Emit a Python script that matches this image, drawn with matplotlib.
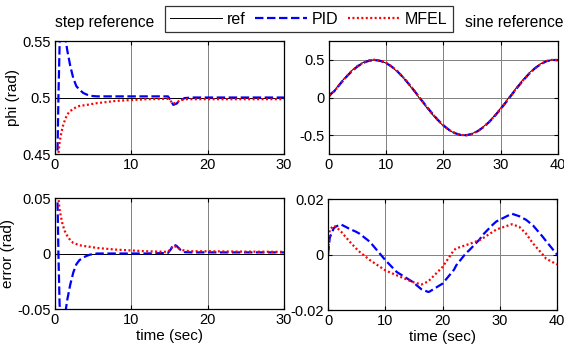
import matplotlib
matplotlib.use("Agg")
import matplotlib.pyplot as plt
from matplotlib.lines import Line2D

plt.rcParams['font.family'] = ['Liberation Sans', 'DejaVu Sans']
plt.rcParams['font.size'] = 11

# step reference response (phi, rad)
t_step = [0, 0.3, 0.45, 0.6, 0.75, 1.0, 1.3, 1.6, 2.0, 2.4, 2.8, 3.2, 3.7, 4.2, 4.6, 5.5, 8, 12, 14.8,
          15.2, 15.5, 15.9, 16.4, 17.0, 18, 20, 25, 30]
ref_step = [0.5] * len(t_step)
pid_step = [0.40, 0.44, 0.50, 0.545, 0.565, 0.568, 0.556, 0.542, 0.528, 0.517, 0.510, 0.507, 0.504, 0.5025,
            0.5015, 0.501, 0.501, 0.501, 0.501, 0.497, 0.4935, 0.4945, 0.4975, 0.4995, 0.5, 0.5, 0.5, 0.5]
mfel_step = [0.40, 0.43, 0.45, 0.460, 0.466, 0.474, 0.480, 0.485, 0.488, 0.490, 0.4915, 0.4925, 0.493, 0.4935,
             0.494, 0.495, 0.497, 0.4985, 0.4988, 0.4965, 0.4945, 0.4955, 0.4975, 0.4985, 0.4985, 0.4985,
             0.4985, 0.4985]

# step reference error (rad)
pid_step_err = [0.10, 0.06, 0.0, -0.045, -0.065, -0.068, -0.056, -0.042, -0.028, -0.017, -0.0097, -0.006,
                -0.0036, -0.002, -0.001, 0.0, 0.0, 0.0, 0.0005, 0.004, 0.0082, 0.0070, 0.0035, 0.0012, 0.001,
                0.001, 0.001, 0.001]
mfel_step_err = [0.10, 0.07, 0.05, 0.040, 0.034, 0.026, 0.020, 0.016, 0.012, 0.0095, 0.0085, 0.0075, 0.0068,
                 0.0064, 0.006, 0.005, 0.0035, 0.002, 0.0015, 0.0045, 0.007, 0.006, 0.004, 0.0025, 0.002,
                 0.002, 0.0017, 0.0015]

# sine reference response (phi, rad)
t_sine = list(range(0, 41))
ref_sine = [0.0, 0.099, 0.195, 0.282, 0.359, 0.421, 0.466, 0.493, 0.500, 0.487, 0.455, 0.404, 0.338, 0.258,
            0.167, 0.071, -0.029, -0.128, -0.221, -0.306, -0.378, -0.436, -0.476, -0.497, -0.498, -0.479,
            -0.442, -0.386, -0.316, -0.232, -0.140, -0.042, 0.058, 0.156, 0.247, 0.328, 0.397, 0.449, 0.484,
            0.499, 0.495]
pid_sine = [0.03, 0.089, 0.184, 0.271, 0.350, 0.413, 0.460, 0.488, 0.497, 0.486, 0.456, 0.408, 0.343, 0.264,
            0.175, 0.080, -0.019, -0.115, -0.208, -0.295, -0.370, -0.431, -0.473, -0.497, -0.501, -0.483,
            -0.446, -0.392, -0.324, -0.242, -0.152, -0.056, 0.044, 0.141, 0.234, 0.318, 0.389, 0.444, 0.482,
            0.499, 0.495]
mfel_sine = [0.03, 0.089, 0.186, 0.275, 0.354, 0.418, 0.464, 0.493, 0.502, 0.491, 0.460, 0.411, 0.345, 0.266,
             0.176, 0.081, -0.019, -0.118, -0.212, -0.299, -0.372, -0.432, -0.474, -0.497, -0.501, -0.483,
             -0.446, -0.391, -0.322, -0.240, -0.150, -0.053, 0.047, 0.145, 0.237, 0.318, 0.389, 0.445, 0.484,
             0.501, 0.498]

# sine reference error (rad)
t_sine_err = [0, 0.3, 1.0, 1.5, 2.3, 3.8, 4.9, 5.5, 7.3, 10, 12, 14.8, 16.3, 17.5, 17.7, 20, 22, 22.4, 24.1,
              24.7, 26.5, 27, 28.8, 29.4, 32.1, 33.4, 34.6, 35.8, 37.5, 38.1, 40]
pid_sine_err = [0.0, 0.006, 0.0095, 0.0102, 0.0108, 0.0092, 0.0082, 0.0075, 0.0046, -0.002, -0.0063, -0.0099,
                -0.0125, -0.0135, -0.0134, -0.0105, -0.0055, -0.0039, 0.0005, 0.0016, 0.0055, 0.007, 0.0108,
                0.0119, 0.0147, 0.0138, 0.0125, 0.0105, 0.0064, 0.0048, 0.0]
mfel_sine_err = [0.0, 0.009, 0.0104, 0.0098, 0.0082, 0.0046, 0.0022, 0.001, -0.002, -0.0057, -0.0075, -0.0099,
                 -0.0108, -0.0097, -0.0093, -0.0045, 0.0016, 0.0022, 0.0034, 0.0038, 0.0052, 0.0058, 0.0082,
                 0.009, 0.0109, 0.010, 0.0075, 0.004, 0.0, -0.0015, -0.0036]

BLUE = '#0000ff'
RED = '#ff0000'
DASH = (0, (3.8, 1.6))
DOT = (0, (0.9, 1.1))
TICK_FS = 10.5

fig = plt.figure(figsize=(5.64, 3.56), dpi=100)
ax_tl = fig.add_axes([0.0975, 0.5674, 0.406, 0.3174])
ax_tr = fig.add_axes([0.5833, 0.5674, 0.406, 0.3174])
ax_bl = fig.add_axes([0.0975, 0.132, 0.406, 0.3118])
ax_br = fig.add_axes([0.5816, 0.1292, 0.406, 0.3118])


def style(ax):
    ax.grid(True, color='#808080', linewidth=0.7)
    ax.tick_params(direction='in', length=3, top=True, right=True, labelsize=TICK_FS, pad=3)
    for s in ax.spines.values():
        s.set_linewidth(0.9)


ax_tl.plot(t_step, ref_step, color='black', lw=0.7)
ax_tl.plot(t_step, pid_step, color=BLUE, lw=1.6, ls=DASH)
ax_tl.plot(t_step, mfel_step, color=RED, lw=1.6, ls=DOT)
ax_tl.set_xlim(0, 30)
ax_tl.set_ylim(0.45, 0.55)
ax_tl.set_xticks([0, 10, 20, 30])
ax_tl.set_yticks([0.45, 0.5, 0.55])
ax_tl.set_yticklabels(['0.45', '0.5', '0.55'])
ax_tl.set_ylabel('phi (rad)', labelpad=2)
style(ax_tl)

ax_tr.plot(t_sine, ref_sine, color='black', lw=0.7)
ax_tr.plot(t_sine, pid_sine, color=BLUE, lw=1.6, ls=DASH)
ax_tr.plot(t_sine, mfel_sine, color=RED, lw=1.6, ls=DOT)
ax_tr.set_xlim(0, 40)
ax_tr.set_ylim(-0.75, 0.75)
ax_tr.set_xticks([0, 10, 20, 30, 40])
ax_tr.set_yticks([-0.5, 0, 0.5])
ax_tr.set_yticklabels(['-0.5', '0', '0.5'])
style(ax_tr)

ax_bl.axhline(0, color='black', lw=0.7)
ax_bl.plot(t_step, pid_step_err, color=BLUE, lw=1.6, ls=DASH)
ax_bl.plot(t_step, mfel_step_err, color=RED, lw=1.6, ls=DOT)
ax_bl.set_xlim(0, 30)
ax_bl.set_ylim(-0.05, 0.05)
ax_bl.set_xticks([0, 10, 20, 30])
ax_bl.set_yticks([-0.05, 0, 0.05])
ax_bl.set_yticklabels(['-0.05', '0', '0.05'])
ax_bl.set_ylabel('error (rad)', labelpad=2)
ax_bl.set_xlabel('time (sec)', labelpad=1)
style(ax_bl)

ax_br.plot(t_sine_err, pid_sine_err, color=BLUE, lw=1.6, ls=DASH)
ax_br.plot(t_sine_err, mfel_sine_err, color=RED, lw=1.6, ls=DOT)
ax_br.set_xlim(0, 40)
ax_br.set_ylim(-0.02, 0.02)
ax_br.set_xticks([0, 10, 20, 30, 40])
ax_br.set_yticks([-0.02, 0, 0.02])
ax_br.set_yticklabels(['-0.02', '0', '0.02'])
ax_br.set_xlabel('time (sec)', labelpad=1)
style(ax_br)

handles = [Line2D([], [], color='black', lw=0.7),
           Line2D([], [], color=BLUE, lw=1.6, ls=DASH),
           Line2D([], [], color=RED, lw=1.6, ls=DOT)]
leg = fig.legend(handles, ['ref', 'PID', 'MFEL'], loc='center', bbox_to_anchor=(0.548, 0.9466),
                 ncol=3, frameon=True, fancybox=False, edgecolor='black', fontsize=11.5,
                 handlelength=3.2, columnspacing=0.6, handletextpad=0.35, borderpad=0.35,
                 borderaxespad=0)
leg.get_frame().set_linewidth(0.9)

fig.text(0.274, 0.938, 'step reference', fontsize=11.2, va='center', ha='right')
fig.text(0.824, 0.938, 'sine reference', fontsize=11.2, va='center', ha='left')

fig.savefig('out.png', dpi=100)
